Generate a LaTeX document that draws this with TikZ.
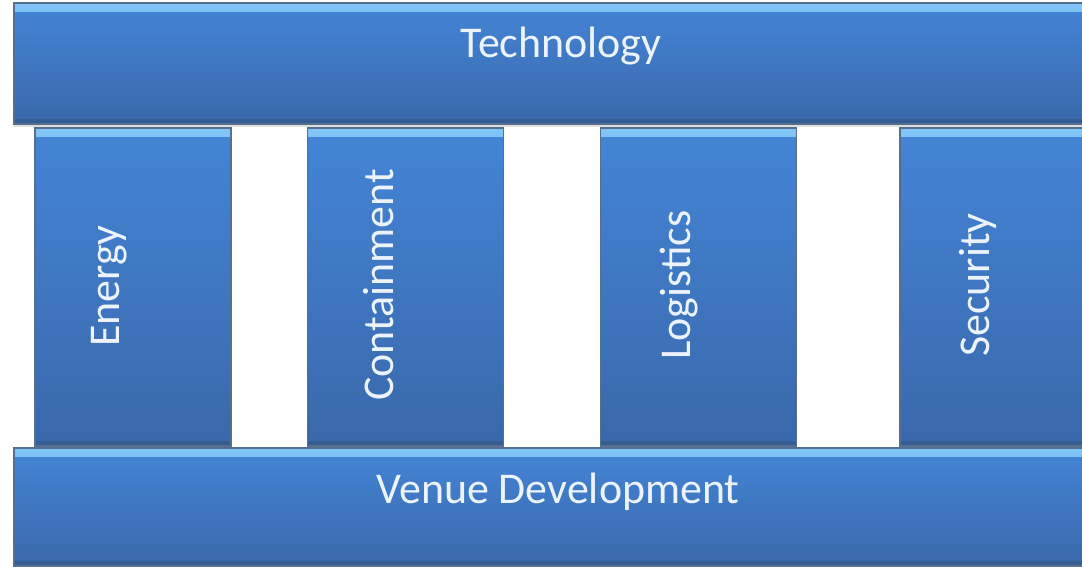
\documentclass[tikz,border=0pt]{standalone}
\usepackage{fontspec}
\setmainfont{Carlito}
\usepackage{tikz}
\usetikzlibrary{shadows}
\definecolor{barhi}{RGB}{130,198,248}
\definecolor{bartop}{RGB}{68,133,215}
\definecolor{barbottom}{RGB}{57,104,170}
\definecolor{bardeep}{RGB}{54,92,148}
\definecolor{barline}{RGB}{86,110,144}
\definecolor{bartext}{RGB}{236,243,252}

\begin{document}
\begin{tikzpicture}[
    x=0.02cm, y=-0.02cm,
    block/.style={draw=barline, line width=0.8pt, top color=bartop, bottom color=barbottom, inner sep=0pt,
        drop shadow={shadow xshift=0pt, shadow yshift=-1.5pt, opacity=0.25},
        path picture={
            \shade[top color=barhi, bottom color=bartop] (path picture bounding box.north west) rectangle ([yshift=-0.16cm]path picture bounding box.north east);
            \fill[bardeep] (path picture bounding box.south west) rectangle ([yshift=0.1cm]path picture bounding box.south east);
        }},
    bar/.style={block, minimum width=21.88cm},
    pillar/.style={block, minimum width=3.92cm, minimum height=6.36cm},
    bartitle/.style={text=bartext, font=\fontsize{25}{30}\selectfont, anchor=base, inner sep=0pt},
    pillartitle/.style={bartitle, rotate=90},
]
    \useasboundingbox (0,0) rectangle (1082,567);
    \clip (0,0) rectangle (1082,567);

    % Roof
    \node[bar, minimum height=2.42cm] (tech) at (561,63.5) {};
    \node[bartitle] (techlabel) at (561,58) {Technology};

    % Pillars
    \node[pillar] (energy) at (133,287) {};
    \node[pillartitle] (energylabel) at (119,286) {Energy};

    \node[pillar] (containment) at (405.5,287) {};
    \node[pillartitle] (containmentlabel) at (393,285) {Containment};

    \node[pillar] (logistics) at (698.5,287) {};
    \node[pillartitle] (logisticslabel) at (690,285) {Logistics};

    \node[pillar] (security) at (998,287) {};
    \node[pillartitle] (securitylabel) at (989,285) {Security};

    % Base
    \node[bar, minimum height=2.36cm] (venue) at (561,507) {};
    \node[bartitle] (venuelabel) at (558,503) {Venue Development};

\end{tikzpicture}
\end{document}
